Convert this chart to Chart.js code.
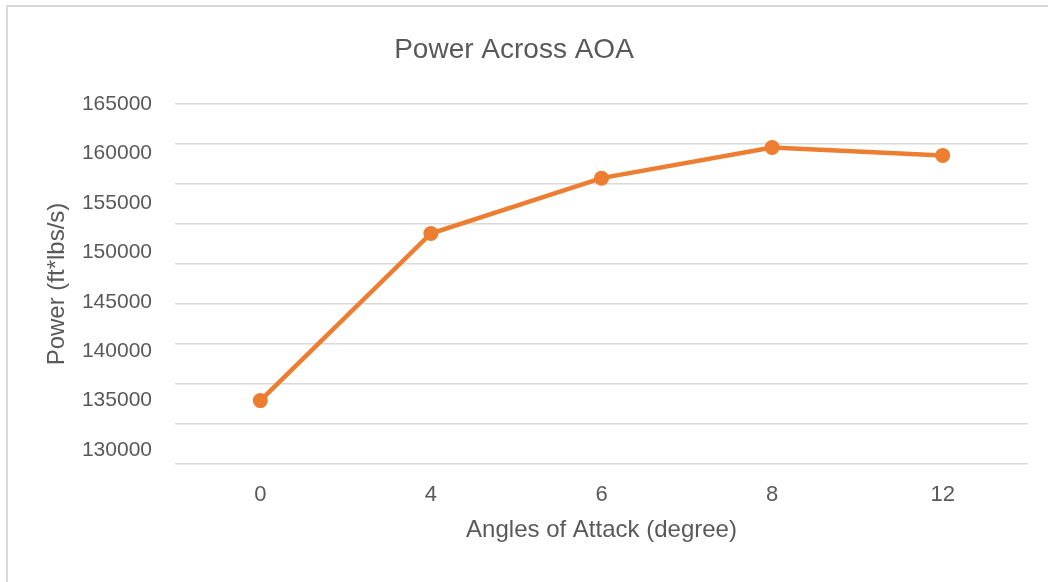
<!DOCTYPE html>
<html>
<head>
<meta charset="utf-8">
<title>Power Across AOA</title>
<script src="https://cdn.jsdelivr.net/npm/chart.js@4/dist/chart.umd.min.js"></script>
<style>
  html, body { margin: 0; padding: 0; background: #ffffff; }
  #wrap { position: relative; width: 1048px; height: 582px; overflow: hidden; }
  #frame {
    position: absolute; left: 6px; top: 5px; right: -10px; bottom: -10px;
    border-top: 2px solid #d9d9d9; border-left: 2px solid #d9d9d9;
    pointer-events: none;
  }
  canvas { display: block; }
</style>
</head>
<body>
<div id="wrap">
  <canvas id="chart" width="1048" height="582"></canvas>
  <div id="frame"></div>
</div>
<script>
// Angle of attack categories (degrees)
const angles = ['0', '4', '6', '8', '12'];
// Power at each angle (ft*lbs/s)
const power = [135000, 151900, 157500, 160600, 159800];
// Labelled values on the power axis
const powerTicks = [130000, 135000, 140000, 145000, 150000, 155000, 160000, 165000];
// Horizontal guide rows drawn across the plot
const gridRows = [0, 1, 2, 3, 4, 5, 6, 7, 8, 9];

const TEXT = '#595959';
const FONT = "'Liberation Sans', Arial, sans-serif";

new Chart(document.getElementById('chart'), {
  type: 'line',
  data: {
    labels: angles,
    datasets: [{
      label: 'Power',
      data: power,
      yAxisID: 'y',
      borderColor: '#ED7D31',
      backgroundColor: '#ED7D31',
      borderWidth: 4.5,
      pointRadius: 7.5,
      pointBorderWidth: 0,
      pointBackgroundColor: '#ED7D31',
      tension: 0,
      fill: false
    }]
  },
  options: {
    responsive: false,
    animation: false,
    layout: { padding: { left: 0, right: 20, top: 0, bottom: 0 } },
    plugins: {
      legend: { display: false },
      tooltip: { enabled: false },
      title: {
        display: true,
        text: 'Power Across AOA',
        color: TEXT,
        font: { family: FONT, size: 28, weight: 'normal' },
        padding: { top: 33, bottom: 37.4 }
      }
    },
    scales: {
      x: {
        type: 'category',
        offset: true,
        grid: { display: false, drawTicks: false },
        border: { display: false },
        ticks: {
          color: TEXT,
          font: { family: FONT, size: 22 },
          padding: 18,
          maxRotation: 0
        },
        title: {
          display: true,
          text: 'Angles of Attack (degree)',
          color: TEXT,
          font: { family: FONT, size: 24 },
          padding: { top: 0, bottom: 37.6 }
        },
        afterFit: (s) => { s.height = 118; }
      },
      y: {
        type: 'linear',
        position: 'left',
        min: 128584,
        max: 165000,
        grid: { display: false, drawTicks: false },
        border: { display: false },
        ticks: {
          color: TEXT,
          font: { family: FONT, size: 21 },
          padding: 23,
          callback: (v) => String(v)
        },
        afterBuildTicks: (s) => { s.ticks = powerTicks.map(v => ({ value: v })); },
        title: {
          display: true,
          text: 'Power (ft*lbs/s)',
          color: TEXT,
          font: { family: FONT, size: 24 },
          padding: { top: 42.6, bottom: 0 }
        },
        afterFit: (s) => { s.width = 175; }
      },
      yg: {
        type: 'linear',
        position: 'left',
        min: gridRows[0],
        max: gridRows[gridRows.length - 1],
        grid: { color: '#d9d9d9', lineWidth: 1.6, drawTicks: false },
        border: { display: false },
        ticks: { display: false, stepSize: 1 },
        afterBuildTicks: (s) => { s.ticks = gridRows.map(v => ({ value: v })); },
        afterFit: (s) => { s.width = 0; }
      }
    }
  }
});
</script>
</body>
</html>
